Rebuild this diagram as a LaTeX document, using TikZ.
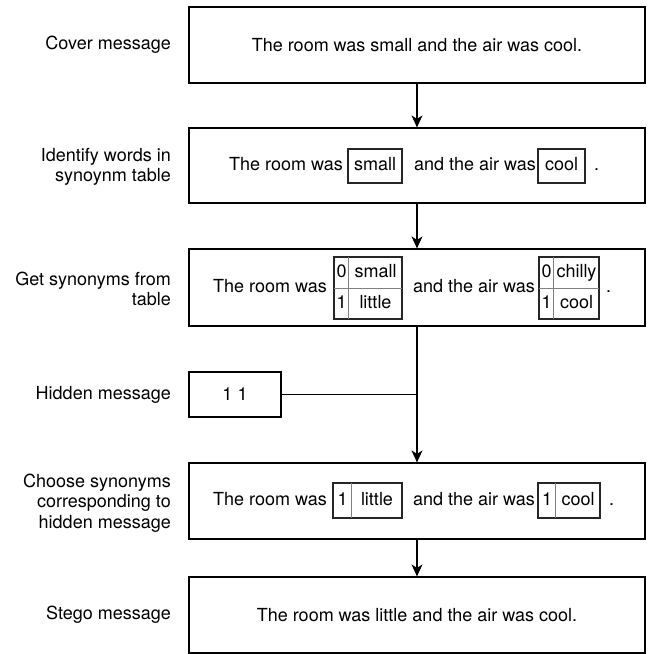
\documentclass[tikz,border=0pt]{standalone}
\usepackage{fontspec}
\setmainfont{TeX Gyre Heros}
\usetikzlibrary{arrows.meta,calc}
\begin{document}
\begin{tikzpicture}[x=1bp,y=-1bp,
  every node/.style={font=\fontsize{18bp}{20.5bp}\selectfont},
  mainbox/.style={draw=black,line width=1.2bp,minimum width=456bp,inner sep=0pt},
  wordbox/.style={draw=black!85,line width=1.3bp,inner sep=0pt},
  txt/.style={inner sep=0pt,text height=13bp,text depth=4bp},
  lbl/.style={align=right,anchor=east,inner sep=0pt},
  divider/.style={draw=black!50,line width=1bp},
  conn/.style={draw=black,line width=1.3bp},
  arr/.style={conn,-{Stealth[length=12bp,width=11bp,inset=3.5bp]}}]
\useasboundingbox (0,0) rectangle (657,654);

% main boxes
\node[mainbox,minimum height=76bp] (b1) at (417,45) {The room was small and the air was cool.};
\node[mainbox,minimum height=75bp] (b2) at (417,165.5) {};
\node[mainbox,minimum height=77bp] (b3) at (417,287.5) {};
\node[draw=black,line width=1.2bp,minimum width=92bp,minimum height=45bp,inner sep=0pt] (h) at (235,394.5) {1 1};
\node[mainbox,minimum height=76bp] (b5) at (417,501) {};
\node[mainbox,minimum height=76bp] (b6) at (417,615) {The room was little and the air was cool.};

% labels
\node[lbl] (l1) at (171,45) {Cover message};
\node[lbl] (l2) at (171,167) {Identify words in\\synoynm table};
\node[lbl] (l3) at (171,289) {Get synonyms from\\table};
\node[lbl] (l4) at (171,395) {Hidden message};
\node[lbl] (l5) at (171,503) {Choose synonyms\\corresponding to\\hidden message};
\node[lbl] (l6) at (171,615) {Stego message};

% row 2
\node[txt,anchor=west] (r2a) at (229,166) {The room was};
\node[wordbox,minimum width=54bp,minimum height=34bp] (r2w1) at (375,166) {};
\node[txt] (r2w1t) at (r2w1.center) {small};
\node[txt,anchor=west] (r2b) at (414,166) {and the air was};
\node[wordbox,minimum width=47bp,minimum height=34bp] (r2w2) at (561.5,166) {};
\node[txt] (r2w2t) at (r2w2.center) {cool};
\node[txt,anchor=west] (r2c) at (594,166) {.};

% row 3
\node[txt,anchor=west] (r3a) at (213,288) {The room was};
\node[wordbox,minimum width=68bp,minimum height=62bp] (t1) at (368,288) {};
\draw[divider] (t1.west) -- (t1.east);
\draw[divider] ($(t1.north west)+(15,0)$) -- ($(t1.south west)+(15,0)$);
\node[txt] (t1a) at (341.5,272.5) {0};
\node[txt] (t1b) at (375.5,272.5) {small};
\node[txt] (t1c) at (341.5,303.5) {1};
\node[txt] (t1d) at (375.5,303.5) {little};
\draw[wordbox] (t1.north west) rectangle (t1.south east);
\node[txt,anchor=west] (r3b) at (413,288) {and the air was};
\node[wordbox,minimum width=60bp,minimum height=62bp] (t2) at (569,288) {};
\draw[divider] (t2.west) -- (t2.east);
\draw[divider] ($(t2.north west)+(15,0)$) -- ($(t2.south west)+(15,0)$);
\node[txt] (t2a) at (546.5,272.5) {0};
\node[txt] (t2b) at (576.5,272.5) {chilly};
\node[txt] (t2c) at (546.5,303.5) {1};
\node[txt] (t2d) at (576.5,303.5) {cool};
\draw[wordbox] (t2.north west) rectangle (t2.south east);
\node[txt,anchor=west] (r3c) at (606,288) {.};

% row 5
\node[txt,anchor=west] (r5a) at (213,501) {The room was};
\node[wordbox,minimum width=69bp,minimum height=35bp] (s1) at (367.5,500.5) {};
\draw[divider] ($(s1.north west)+(19,0)$) -- ($(s1.south west)+(19,0)$);
\draw[wordbox] (s1.north west) rectangle (s1.south east);
\node[txt] (s1a) at (342.5,500.5) {1};
\node[txt] (s1b) at (377,500.5) {little};
\node[txt,anchor=west] (r5b) at (413,501) {and the air was};
\node[wordbox,minimum width=62bp,minimum height=35bp] (s2) at (569,500.5) {};
\draw[divider] ($(s2.north west)+(18,0)$) -- ($(s2.south west)+(18,0)$);
\draw[wordbox] (s2.north west) rectangle (s2.south east);
\node[txt] (s2a) at (547,500.5) {1};
\node[txt] (s2b) at (578,500.5) {cool};
\node[txt,anchor=west] (r5c) at (609,501) {.};

% connectors
\draw[arr] (b1.south) -- (b2.north);
\draw[arr] (b2.south) -- (b3.north);
\draw[arr] (b3.south) -- (b5.north);
\draw[conn] (h.east) -- (h.east -| b3.south);
\draw[arr] (b5.south) -- (b6.north);
\end{tikzpicture}
\end{document}
